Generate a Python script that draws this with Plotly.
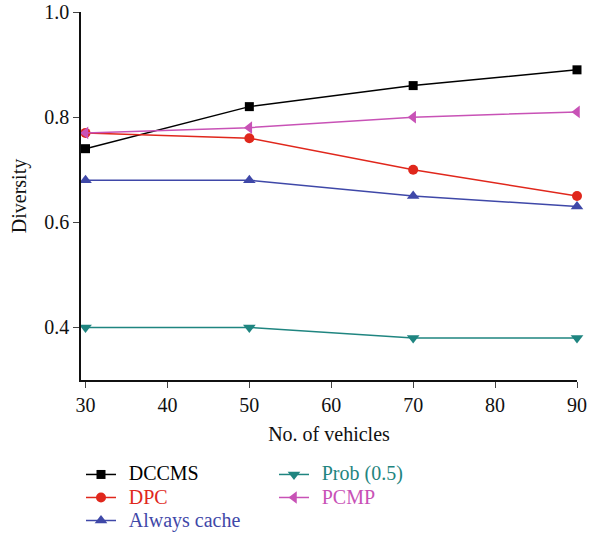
import plotly.graph_objects as go

vehicles = [30, 50, 70, 90]
dccms = [0.74, 0.82, 0.86, 0.89]
dpc = [0.77, 0.76, 0.70, 0.65]
always_cache = [0.68, 0.68, 0.65, 0.63]
prob = [0.40, 0.40, 0.38, 0.38]
pcmp = [0.77, 0.78, 0.80, 0.81]

y_ticks = [0.4, 0.6, 0.8, 1.0]
x_ticks = [30, 40, 50, 60, 70, 80, 90]

FONT = "Liberation Serif"

series = [
    ("DCCMS", dccms, "#000000", "square", 9),
    ("Prob (0.5)", prob, "#1f8580", "triangle-down", 11),
    ("DPC", dpc, "#e0271c", "circle", 10),
    ("PCMP", pcmp, "#c852b6", "triangle-left", 11),
    ("Always cache", always_cache, "#3f48a8", "triangle-up", 11),
]

fig = go.Figure()
for name, vals, color, sym, size in series:
    fig.add_trace(go.Scatter(
        x=vehicles, y=vals, mode="lines+markers",
        name=f"&nbsp;&nbsp;<span style='color:{color};font-size:20px'>{name}</span>",
        line=dict(color=color, width=1.5),
        marker=dict(symbol=sym, size=size, color=color),
        cliponaxis=False,
    ))

fig.update_layout(
    width=613, height=541,
    margin=dict(l=81, r=36, t=12, b=161, autoexpand=False),
    plot_bgcolor="white", paper_bgcolor="white",
    font=dict(family=FONT, size=19, color="#111111"),
    showlegend=True,
    legend=dict(
        orientation="h", x=0.0, xanchor="left",
        yref="container", y=0.1535, yanchor="top",
        entrywidth=148, entrywidthmode="pixels",
        font=dict(family=FONT, size=15.4), tracegroupgap=0,
        itemwidth=30, bgcolor="rgba(0,0,0,0)",
    ),
    xaxis=dict(
        range=[29.45, 90], tickvals=x_ticks, ticks="outside", ticklen=6,
        showline=True, linecolor="#111111", linewidth=1.5, showgrid=False,
        zeroline=False, tickfont=dict(size=20), automargin=False,
        title=dict(text="No. of vehicles", font=dict(size=20), standoff=12),
    ),
    yaxis=dict(
        range=[0.3, 1.0], tickvals=y_ticks, ticktext=[f"{v:.1f}" for v in y_ticks],
        ticks="outside", ticklen=6,
        showline=True, linecolor="#111111", linewidth=1.5, showgrid=False,
        zeroline=False, tickfont=dict(size=20), automargin=False,
        title=dict(text="Diversity", font=dict(size=20), standoff=12),
    ),
)

fig.write_html("out.html")
